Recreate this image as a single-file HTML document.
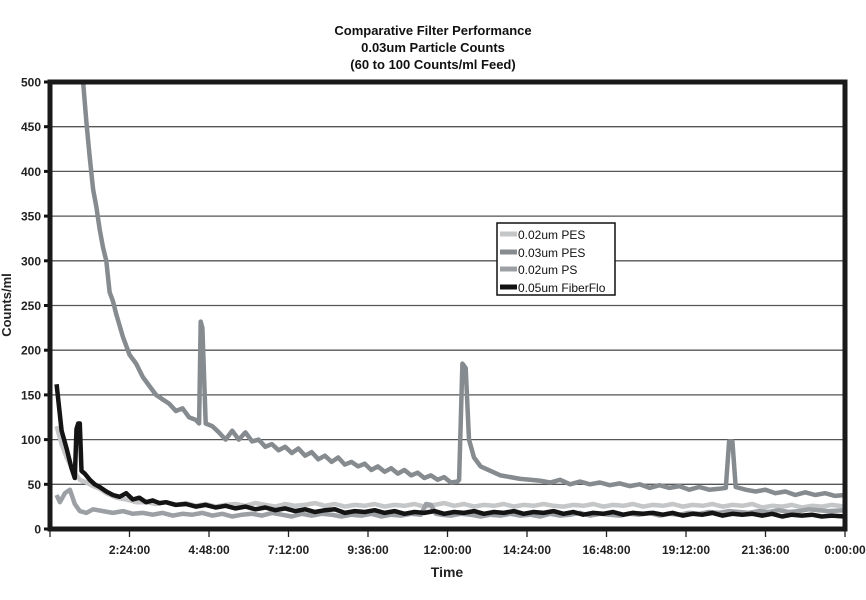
<!DOCTYPE html>
<html><head><meta charset="utf-8"><style>
body{margin:0;background:#fff;width:866px;height:595px;overflow:hidden;font-family:"Liberation Sans",Arial,sans-serif}
svg text{font-family:"Liberation Sans",Arial,sans-serif}
</style></head><body>
<svg id="chart" width="866" height="595" xmlns="http://www.w3.org/2000/svg">
<g font-weight="bold" font-size="13" fill="#111" text-anchor="middle">
<text x="433" y="35">Comparative Filter Performance</text>
<text x="433" y="52">0.03um Particle Counts</text>
<text x="433" y="69">(60 to 100 Counts/ml Feed)</text>
</g>
<g id="grid"></g>
<g id="yticks"></g>
<g id="xticks"></g>
<g id="series"></g>
<rect x="50" y="82" width="795" height="447" fill="none" stroke="#1a1a1a" stroke-width="5"/>
<text transform="translate(11,305) rotate(-90)" text-anchor="middle" font-weight="bold" font-size="13" fill="#222">Counts/ml</text>
<text x="447" y="577" text-anchor="middle" font-weight="bold" font-size="14" fill="#222">Time</text>
<g>
<rect x="497" y="223" width="118" height="72" fill="#fff" stroke="#111" stroke-width="1.5"/>
<g><line x1="500" x2="517" y1="234" y2="234" stroke="#c4c6c8" stroke-width="5"/><text x="518" y="239" font-size="12" fill="#111">0.02um PES</text></g>
<g><line x1="500" x2="517" y1="252" y2="252" stroke="#868b90" stroke-width="5"/><text x="518" y="257" font-size="12" fill="#111">0.03um PES</text></g>
<g><line x1="500" x2="517" y1="269" y2="269" stroke="#9ca0a4" stroke-width="5"/><text x="518" y="274" font-size="12" fill="#111">0.02um PS</text></g>
<g><line x1="500" x2="517" y1="287" y2="287" stroke="#111" stroke-width="5"/><text x="518" y="292" font-size="12" fill="#111">0.05um FiberFlo</text></g>
</g>
</svg>
<script>
const yTicks=[0,50,100,150,200,250,300,350,400,450,500];
const xTickLabels=["","2:24:00","4:48:00","7:12:00","9:36:00","12:00:00","14:24:00","16:48:00","19:12:00","21:36:00","0:00:00"];
const xTickHours=[0,2.4,4.8,7.2,9.6,12,14.4,16.8,19.2,21.6,24];

const pes003T=[1.0,1.1,1.2,1.3,1.4,1.5,1.6,1.7,1.8,1.9,2.0,2.2,2.4,2.6,2.8,3.0,3.2,3.4,3.6,3.8,4.0,4.2,4.4,4.5,4.55,4.6,4.7,4.9,5.1,5.3,5.5,5.7,5.9,6.1,6.3,6.5,6.7,6.9,7.1,7.3,7.5,7.7,7.9,8.1,8.3,8.5,8.7,8.9,9.1,9.3,9.5,9.7,9.9,10.1,10.3,10.5,10.7,10.9,11.1,11.3,11.5,11.7,11.9,12.1,12.3,12.35,12.45,12.55,12.65,12.8,13.0,13.3,13.6,13.9,14.2,14.5,14.8,15.1,15.4,15.7,16.0,16.3,16.6,16.9,17.2,17.5,17.8,18.1,18.4,18.7,19.0,19.3,19.6,19.9,20.2,20.4,20.5,20.6,20.7,21.0,21.3,21.6,21.9,22.2,22.5,22.8,23.1,23.4,23.7,24.0];
const pes003V=[500,455,415,380,360,335,315,300,265,255,240,215,195,185,170,160,150,145,140,132,135,125,122,118,232,225,118,115,108,100,110,100,108,98,100,92,95,88,92,85,90,82,86,78,82,75,80,72,75,70,73,66,70,64,68,62,66,60,63,57,60,55,58,52,53,55,185,180,100,80,70,65,60,58,56,55,54,52,55,50,53,50,52,49,51,48,50,46,49,46,48,44,47,44,45,46,98,98,47,44,42,44,40,42,38,41,38,40,37,38];

const fiberT=[0.2,0.35,0.5,0.65,0.75,0.8,0.85,0.9,0.95,1.05,1.2,1.35,1.5,1.7,1.9,2.1,2.3,2.5,2.7,2.9,3.1,3.3,3.5,3.8,4.1,4.4,4.7,5.0,5.3,5.6,5.9,6.2,6.5,6.8,7.1,7.4,7.7,8.0,8.3,8.6,8.9,9.2,9.5,9.8,10.1,10.4,10.7,11.0,11.3,11.6,11.9,12.2,12.5,12.8,13.1,13.4,13.7,14.0,14.3,14.6,14.9,15.2,15.5,15.8,16.1,16.4,16.7,17.0,17.3,17.6,17.9,18.2,18.5,18.8,19.1,19.4,19.7,20.0,20.3,20.6,20.9,21.2,21.5,21.8,22.1,22.4,22.7,23.0,23.3,23.6,24.0];
const fiberV=[162,110,90,68,57,112,118,118,65,62,55,50,47,42,38,36,40,33,35,30,32,29,30,27,28,25,27,24,26,23,25,22,24,21,23,20,22,19,21,22,18,20,19,21,18,20,17,19,18,20,17,19,18,20,17,19,18,20,17,19,18,20,17,19,16,18,17,19,16,18,17,18,16,18,15,17,16,18,15,17,16,17,15,17,14,16,15,16,14,15,14];

const pes002T=[0.2,0.35,0.5,0.7,0.9,1.1,1.3,1.5,1.7,2.0,2.3,2.6,2.9,3.2,3.5,3.8,4.1,4.4,4.7,5.0,5.3,5.6,5.9,6.2,6.5,6.8,7.1,7.4,7.7,8.0,8.3,8.6,8.9,9.2,9.5,9.8,10.1,10.4,10.7,11.0,11.3,11.6,11.9,12.2,12.5,12.8,13.1,13.4,13.7,14.0,14.3,14.6,14.9,15.2,15.5,15.8,16.1,16.4,16.7,17.0,17.3,17.6,17.9,18.2,18.5,18.8,19.1,19.4,19.7,20.0,20.3,20.6,20.9,21.2,21.5,21.8,22.1,22.4,22.7,23.0,23.3,23.6,24.0];
const pes002V=[115,95,80,65,55,52,48,45,40,35,33,30,30,28,30,27,29,26,28,25,27,28,26,29,27,25,28,26,27,29,26,28,25,27,26,28,25,27,26,28,25,27,29,26,28,25,27,26,28,25,27,26,28,26,25,27,26,28,25,27,26,28,25,27,26,28,25,27,26,28,25,27,26,28,24,26,25,27,24,26,25,27,25];

const ps002T=[0.2,0.3,0.45,0.6,0.75,0.9,1.1,1.3,1.6,1.9,2.2,2.5,2.8,3.1,3.4,3.7,4.0,4.3,4.6,4.9,5.2,5.5,5.8,6.1,6.4,6.7,7.0,7.3,7.6,7.9,8.2,8.5,8.8,9.1,9.4,9.7,10.0,10.3,10.6,10.9,11.2,11.35,11.5,11.65,11.8,12.1,12.4,12.7,13.0,13.3,13.6,13.9,14.2,14.5,14.8,15.1,15.4,15.7,16.0,16.3,16.6,16.9,17.2,17.5,17.8,18.1,18.4,18.7,19.0,19.3,19.6,19.9,20.2,20.5,20.8,21.1,21.4,21.7,22.0,22.3,22.6,22.9,23.2,23.5,24.0];
const ps002V=[38,30,40,44,28,20,18,22,20,18,20,17,18,16,18,15,17,16,18,15,17,14,16,17,15,18,16,14,17,15,17,16,14,16,15,17,14,16,15,17,16,28,27,17,16,15,17,16,14,16,15,17,15,16,14,17,15,16,18,15,17,16,15,17,16,18,15,17,16,18,17,19,18,20,19,18,20,19,21,19,20,22,21,20,21];

const X0=50,X1=845,Y0=529,Y1=82;
const sx=h=>X0+(h/24)*(X1-X0);
const sy=v=>Y0-(v/500)*(Y0-Y1);
const NS="http://www.w3.org/2000/svg";
function mk(tag,attrs,parent){const e=document.createElementNS(NS,tag);for(const k in attrs)e.setAttribute(k,attrs[k]);parent.appendChild(e);return e;}

const grid=document.getElementById('grid');
const yg=document.getElementById('yticks');
yTicks.forEach(v=>{
  if(v>0&&v<500){const l=mk('line',{x1:X0,x2:X1,y1:sy(v),y2:sy(v),stroke:'#555','stroke-width':1.3},grid);
  
  }
  const tk=mk('line',{x1:X0-6,x2:X0,y1:sy(v),y2:sy(v),stroke:'#111','stroke-width':3},yg);
  
  
  const t=mk('text',{x:X0-9,y:sy(v)+4.5,'text-anchor':'end','font-size':12,'font-weight':'bold',fill:'#222'},yg);
  t.textContent=v;
  
  
});
const xg=document.getElementById('xticks');
xTickHours.forEach((h,i)=>{
  const tk=mk('line',{x1:sx(h),x2:sx(h),y1:Y0,y2:Y0+8,stroke:'#222','stroke-width':1.3},xg);
  
  
  const t=mk('text',{x:sx(h),y:554,'text-anchor':'middle','font-size':12,'font-weight':'bold',fill:'#222'},xg);
  t.textContent=xTickLabels[i];
  
  
});
const sg=document.getElementById('series');
function line(T,V,color,name){
  const d=T.map((h,i)=>(i?'L':'M')+sx(h).toFixed(1)+','+sy(V[i]).toFixed(1)).join('');
  const p=mk('path',{d:d,fill:'none',stroke:color,'stroke-width':4.5,'stroke-linejoin':'round'},sg);
  
  
}
line(pes003T,pes003V,'#868b90','line-0-03um-pes');
line(pes002T,pes002V,'#c4c6c8','line-0-02um-pes');
line(ps002T,ps002V,'#9ca0a4','line-0-02um-ps');
line(fiberT,fiberV,'#141414','line-0-05um-fiberflo');
</script>
</body></html>
